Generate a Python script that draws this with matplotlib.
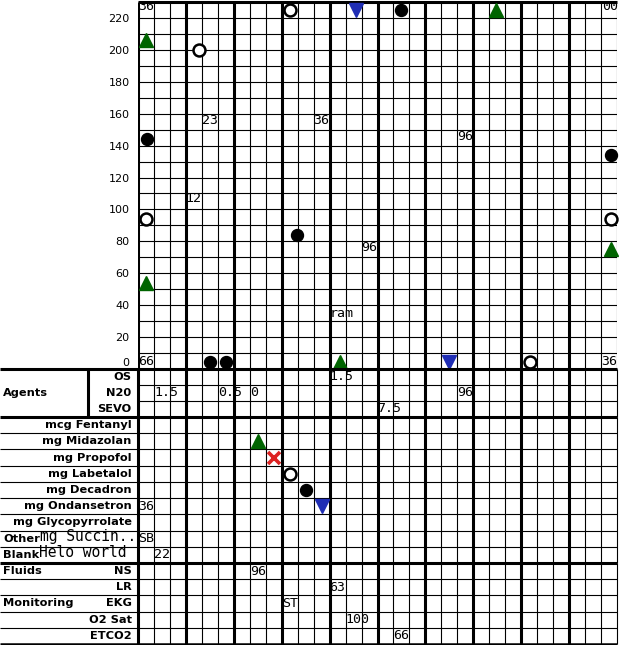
import matplotlib
matplotlib.use("Agg")
import matplotlib.pyplot as plt

# ---------------- data ----------------
n_cols = 30
y_max = 230
y_tick_values = [0, 20, 40, 60, 80, 100, 120, 140, 160, 180, 200, 220]
y_floor = 4.5  # values at 0 are drawn just inside the bottom edge

vital_up_x = [0.5, 0.5, 12.65, 22.45, 29.6]
vital_up_y = [206, 54, 0, 225, 75]
vital_dot_x = [0.55, 4.5, 5.5, 9.95, 16.5, 29.6]
vital_dot_y = [144, 0, 0, 84, 225, 134]
vital_ring_x = [0.5, 3.85, 9.55, 24.55, 29.6]
vital_ring_y = [94, 200, 225, 0, 94]
vital_down_x = [13.65, 19.5]
vital_down_y = [225, 0]

vital_text = ["36", "00", "23", "12", "36", "96", "96", "ram", "66", "36"]
vital_text_x = [0, 29.05, 4, 3, 11, 20, 14, 12, 0, 29]
vital_text_y = [227, 227, 156, 107, 156, 146, 76, 35, 0, 0]

agent_rows = ["OS", "N20", "SEVO"]
agent_text = ["1.5", "0.5", "0", "1.5", "96", "7.5"]
agent_text_x = [1, 5, 7, 12, 20, 15]
agent_text_row = ["N20", "N20", "N20", "OS", "N20", "SEVO"]

drug_rows = ["mcg Fentanyl", "mg Midazolan", "mg Propofol", "mg Labetalol",
             "mg Decadron", "mg Ondansetron", "mg Glycopyrrolate", "Other", "Blank"]
drug_left_rows = ["Other", "Blank"]
drug_row_extra = ["mg Succin..", "Helo world"]
drug_up_x, drug_up_row = [7.5], ["mg Midazolan"]
drug_cross_x, drug_cross_row = [8.5], ["mg Propofol"]
drug_ring_x, drug_ring_row = [9.5], ["mg Labetalol"]
drug_dot_x, drug_dot_row = [10.5], ["mg Decadron"]
drug_down_x, drug_down_row = [11.5], ["mg Ondansetron"]
drug_text = ["36", "SB", "22"]
drug_text_x = [0, 0, 1]
drug_text_row = ["mg Ondansetron", "Other", "Blank"]

fluid_rows = ["NS", "LR", "EKG", "O2 Sat", "ETCO2"]
fluid_groups = ["Fluids", "Monitoring"]
fluid_group_rows = ["NS", "EKG"]
fluid_text = ["96", "63", "ST", "100", "66"]
fluid_text_x = [7, 12, 9, 13, 16]
fluid_text_row = ["NS", "LR", "EKG", "O2 Sat", "ETCO2"]

# ---------------- style ----------------
W, H = 619, 645
GREEN = "#006400"
BLUE = "#1f2db4"
RED = "#dd2222"
THICK = 2.2
THIN = 0.8
MONO = "DejaVu Sans Mono"
LBL = dict(fontsize=8.2, fontweight="bold", family="DejaVu Sans")

grid_left, grid_right = 138, 617
col_px = (grid_right - grid_left) / n_cols
x_left_data = -grid_left / col_px


def fig_rect(px_left, py_top, px_right, py_bottom):
    return [px_left / W, 1 - py_bottom / H, (px_right - px_left) / W, (py_bottom - py_top) / H]


fig = plt.figure(figsize=(W / 100, H / 100), dpi=100)


def clamp(vals):
    return [max(v, y_floor) for v in vals]


# ---------------- top vitals chart ----------------
ax = fig.add_axes(fig_rect(grid_left, 2, grid_right, 369))
ax.set_xlim(0, n_cols)
ax.set_ylim(0, y_max)
for c in range(n_cols + 1):
    thick = (c % 3 == 0) and c < n_cols
    ax.vlines(c, 0, y_max, color="black", lw=THICK if thick else THIN, zorder=1)
for v in range(10, y_max, 10):
    ax.hlines(v, 0, n_cols, color="black", lw=THIN, zorder=1)
ax.hlines(y_max, 0, n_cols, color="black", lw=THICK, zorder=1, clip_on=False)
for s in ax.spines.values():
    s.set_visible(False)
ax.set_xticks([])
ax.set_yticks(clamp(y_tick_values))
ax.set_yticklabels([str(v) for v in y_tick_values], fontsize=8)
ax.tick_params(axis="y", length=0, pad=6)

ax.plot(vital_up_x, clamp(vital_up_y), "^", color=GREEN, ms=9.5, mec=GREEN, zorder=3, clip_on=False)
ax.plot(vital_dot_x, clamp(vital_dot_y), "o", color="black", ms=8.6, zorder=3, clip_on=False)
ax.plot(vital_ring_x, clamp(vital_ring_y), "o", mfc="white", mec="black", mew=1.8, ms=8.6, zorder=3,
        clip_on=False)
ax.plot(vital_down_x, clamp(vital_down_y), "v", color=BLUE, ms=9.5, zorder=3, clip_on=False)
for t, x, y in zip(vital_text, vital_text_x, clamp(vital_text_y)):
    ax.text(x, y, t, family=MONO, fontsize=9.5, ha="left", va="center", zorder=4, clip_on=False)


def lower_axes(py_top, py_bottom, rows):
    a = fig.add_axes(fig_rect(0, py_top, grid_right, py_bottom))
    a.set_xlim(x_left_data, n_cols)
    a.set_ylim(len(rows), 0)
    a.axis("off")
    for c in range(n_cols + 1):
        thick = (c % 3 == 0) and c < n_cols
        a.vlines(c, 0, len(rows), color="black", lw=THICK if thick else THIN, zorder=1, clip_on=False)
    return a


def row_y(rows, name):
    return rows.index(name) + 0.5


def rows_y(rows, names):
    return [row_y(rows, n) for n in names]


# ---------------- agents ----------------
ax_a = lower_axes(369, 417, agent_rows)
for r in range(1, len(agent_rows)):
    ax_a.hlines(r, 0, n_cols, color="black", lw=THIN, zorder=1)
ax_a.hlines([0, len(agent_rows)], x_left_data, n_cols, color="black", lw=THICK, zorder=2, clip_on=False)
ax_a.vlines((88 - grid_left) / col_px, 0, len(agent_rows), color="black", lw=THICK, zorder=2)
ax_a.text(x_left_data + 0.2, row_y(agent_rows, "N20"), "Agents", ha="left", va="center", **LBL)
for name in agent_rows:
    ax_a.text(-0.4, row_y(agent_rows, name), name, ha="right", va="center", **LBL)
for t, x, rname in zip(agent_text, agent_text_x, agent_text_row):
    ax_a.text(x, row_y(agent_rows, rname), t, family=MONO, fontsize=9.5, ha="left", va="center", zorder=4)

# ---------------- drugs ----------------
ax_d = lower_axes(417, 563, drug_rows)
for r in range(1, len(drug_rows)):
    ax_d.hlines(r, x_left_data, n_cols, color="black", lw=THIN, zorder=1)
for name in drug_rows:
    if name in drug_left_rows:
        lab = ax_d.text(x_left_data + 0.2, row_y(drug_rows, name), name, ha="left", va="center", **LBL)
        extra = drug_row_extra[drug_left_rows.index(name)]
        ax_d.annotate(extra, xy=(1, 0), xycoords=lab, ha="left", va="bottom",
                      family=MONO, fontsize=10.5)
    else:
        ax_d.text(-0.4, row_y(drug_rows, name), name, ha="right", va="center", **LBL)

ax_d.plot(drug_up_x, rows_y(drug_rows, drug_up_row), "^", color=GREEN, ms=9.5, zorder=3)
ax_d.plot(drug_cross_x, rows_y(drug_rows, drug_cross_row), "x", color=RED, ms=9, mew=2.6, zorder=3)
ax_d.plot(drug_ring_x, rows_y(drug_rows, drug_ring_row), "o", mfc="white", mec="black", mew=1.8, ms=8.6,
          zorder=3)
ax_d.plot(drug_dot_x, rows_y(drug_rows, drug_dot_row), "o", color="black", ms=8.6, zorder=3)
ax_d.plot(drug_down_x, rows_y(drug_rows, drug_down_row), "v", color=BLUE, ms=9.5, zorder=3)
for t, x, rname in zip(drug_text, drug_text_x, drug_text_row):
    ax_d.text(x, row_y(drug_rows, rname), t, family=MONO, fontsize=9.5, ha="left", va="center", zorder=4)

# ---------------- fluids / monitoring ----------------
ax_f = lower_axes(563, 644, fluid_rows)
for r in range(1, len(fluid_rows)):
    ax_f.hlines(r, x_left_data, n_cols, color="black", lw=THIN, zorder=1)
ax_f.hlines(0, x_left_data, n_cols, color="black", lw=THICK, zorder=2, clip_on=False)
ax_f.hlines(len(fluid_rows), x_left_data, n_cols, color="black", lw=1.8, zorder=2, clip_on=False)
for g, rname in zip(fluid_groups, fluid_group_rows):
    ax_f.text(x_left_data + 0.2, row_y(fluid_rows, rname), g, ha="left", va="center", **LBL)
for name in fluid_rows:
    ax_f.text(-0.4, row_y(fluid_rows, name), name, ha="right", va="center", **LBL)
for t, x, rname in zip(fluid_text, fluid_text_x, fluid_text_row):
    ax_f.text(x, row_y(fluid_rows, rname), t, family=MONO, fontsize=9.5, ha="left", va="center", zorder=4)

fig.savefig("out.png", dpi=100)
